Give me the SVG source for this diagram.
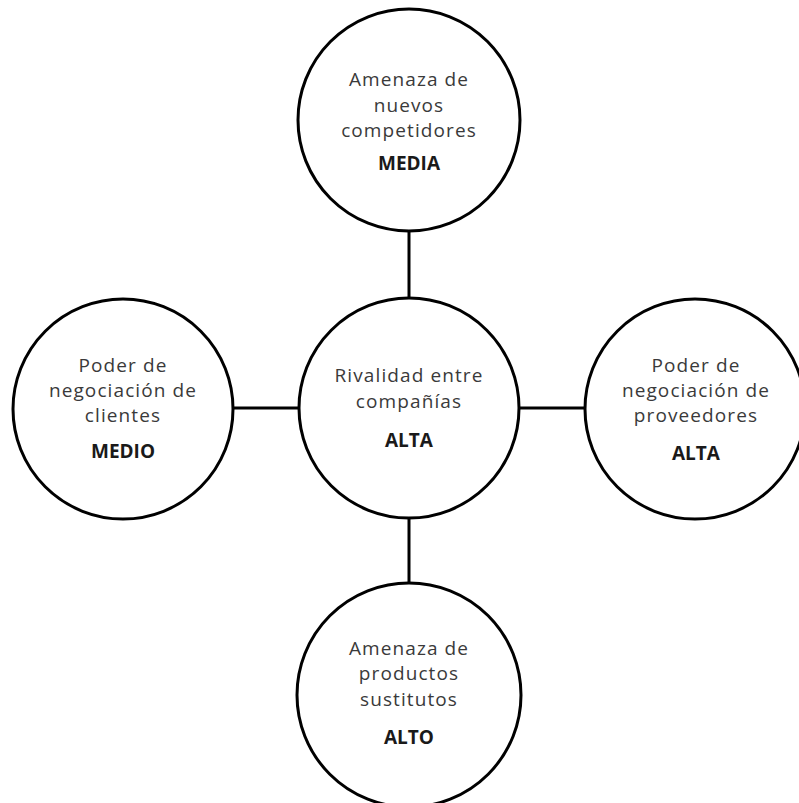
<svg xmlns="http://www.w3.org/2000/svg" width="799" height="803" viewBox="0 0 799 803">
<style>
.c{fill:#fff;stroke:#000;stroke-width:3}
.l{stroke:#000;stroke-width:3;fill:none}
text{font-family:"Open Sans","DejaVu Sans",sans-serif;font-size:19px;letter-spacing:1.1px;fill:#3a3a3a;text-anchor:middle}
.b{font-weight:bold;fill:#1a1a1a;font-size:19px;letter-spacing:0}
</style>
<rect width="799" height="803" fill="#fff"/>
<g id="connectors">
<line class="l" x1="409" y1="231" x2="409" y2="298"/>
<line class="l" x1="233" y1="408" x2="298" y2="408"/>
<line class="l" x1="519" y1="408" x2="585" y2="408"/>
<line class="l" x1="409" y1="518" x2="409" y2="583"/>
</g>
<g id="top">
<circle class="c" cx="409" cy="120" r="111"/>
<text x="409" y="86">Amenaza de</text>
<text x="409" y="112">nuevos</text>
<text x="409" y="137">competidores</text>
<text class="b" x="409" y="170">MEDIA</text>
</g>
<g id="center">
<circle class="c" cx="409" cy="408" r="110"/>
<text x="409" y="382">Rivalidad entre</text>
<text x="409" y="408">compañías</text>
<text class="b" x="409" y="447">ALTA</text>
</g>
<g id="left">
<circle class="c" cx="123" cy="409" r="110"/>
<text x="123" y="372">Poder de</text>
<text x="123" y="397">negociación de</text>
<text x="123" y="422">clientes</text>
<text class="b" x="123" y="458">MEDIO</text>
</g>
<g id="right">
<circle class="c" cx="695" cy="409" r="110"/>
<text x="696" y="372">Poder de</text>
<text x="696" y="397">negociación de</text>
<text x="696" y="422">proveedores</text>
<text class="b" x="696" y="460">ALTA</text>
</g>
<g id="bottom">
<circle class="c" cx="409" cy="695" r="112"/>
<text x="409" y="655">Amenaza de</text>
<text x="409" y="680">productos</text>
<text x="409" y="706">sustitutos</text>
<text class="b" x="409" y="744">ALTO</text>
</g>
</svg>
